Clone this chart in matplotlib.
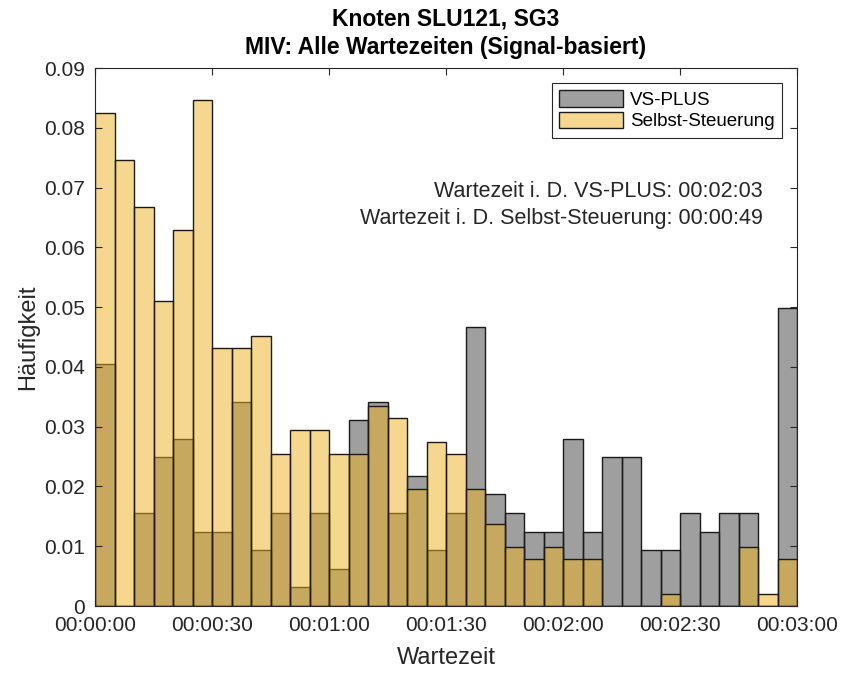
import matplotlib
matplotlib.use("Agg")
import matplotlib.pyplot as plt
from matplotlib.patches import Patch
import numpy as np

plt.rcParams['font.family'] = ['Liberation Sans', 'DejaVu Sans']

# bin edges in seconds (5 s bins from 0 to 180 s)
bin_width = 5
bin_starts = list(range(0, 180, 5))

vs_plus = [0.0405, 0.0, 0.0156, 0.0249, 0.0279, 0.0124, 0.0124, 0.0342, 0.0093,
           0.0156, 0.0031, 0.0156, 0.0062, 0.0311, 0.0342, 0.0156, 0.0218, 0.0093,
           0.0156, 0.0467, 0.0187, 0.0156, 0.0124, 0.0124, 0.0280, 0.0124, 0.0249,
           0.0249, 0.0093, 0.0093, 0.0156, 0.0124, 0.0156, 0.0156, 0.0, 0.0498]

selbst = [0.0825, 0.0746, 0.0668, 0.0511, 0.0629, 0.0846, 0.0432, 0.0432, 0.0452,
          0.0255, 0.0295, 0.0295, 0.0255, 0.0255, 0.0334, 0.0314, 0.0196, 0.0274,
          0.0255, 0.0196, 0.0137, 0.0098, 0.0078, 0.0098, 0.0078, 0.0078, 0.0,
          0.0, 0.0, 0.0020, 0.0, 0.0, 0.0, 0.0098, 0.0020, 0.0078]

series_names = ["VS-PLUS", "Selbst-Steuerung"]
xtick_secs = [0, 30, 60, 90, 120, 150, 180]
ytick_vals = [0, 0.01, 0.02, 0.03, 0.04, 0.05, 0.06, 0.07, 0.08, 0.09]
title_lines = ["Knoten SLU121, SG3", "MIV: Alle Wartezeiten (Signal-basiert)"]
annotations = ["Wartezeit i. D. VS-PLUS: 00:02:03",
               "Wartezeit i. D. Selbst-Steuerung: 00:00:49"]

gray_face = (0.25, 0.25, 0.25, 0.5)
yellow_face = (0.929, 0.694, 0.125, 0.5)
edge = (0.1, 0.1, 0.1, 1.0)
axcol = (0.15, 0.15, 0.15)

fig = plt.figure(figsize=(8.42, 6.73), dpi=100)
ax = fig.add_axes([95/842, 1-606/673, (797-95)/842, (606-68)/673])

ax.bar(bin_starts, vs_plus, width=bin_width, align='edge',
       facecolor=gray_face, edgecolor=edge, linewidth=1.0)
ax.bar(bin_starts, selbst, width=bin_width, align='edge',
       facecolor=yellow_face, edgecolor=edge, linewidth=1.0)

ax.set_xlim(0, 180)
ax.set_ylim(0, 0.09)

def fmt(s):
    return f"{s//3600:02d}:{(s%3600)//60:02d}:{s%60:02d}"

ax.set_xticks(xtick_secs)
ax.set_xticklabels([fmt(s) for s in xtick_secs])
ax.set_yticks(ytick_vals)
ax.set_yticklabels([f"{v:g}" for v in ytick_vals])

ax.tick_params(direction='in', top=True, right=True, length=5, width=0.8,
               colors=axcol, labelsize=15, pad=7)
for sp in ax.spines.values():
    sp.set_color(axcol)
    sp.set_linewidth(0.8)

ax.set_xlabel("Wartezeit", fontsize=17, color=axcol, labelpad=9)
ax.set_ylabel("Häufigkeit", fontsize=17, color=axcol, labelpad=4)

ax.set_title("\n".join(title_lines), fontsize=16.5, fontweight='bold',
             linespacing=1.3, pad=10)

ax.text(171.3, 0.0694, annotations[0], ha='right', va='center', fontsize=15.5, color=axcol)
ax.text(171.3, 0.0649, annotations[1], ha='right', va='center', fontsize=15.5, color=axcol)

handles = [Patch(facecolor=gray_face, edgecolor=edge, linewidth=1.0, label=series_names[0]),
           Patch(facecolor=yellow_face, edgecolor=edge, linewidth=1.0, label=series_names[1])]
leg = ax.legend(handles=handles, loc='upper right', bbox_to_anchor=(0.979, 0.973),
                fontsize=13.5, fancybox=False, framealpha=1, edgecolor=axcol,
                handlelength=3.4, handleheight=0.95, handletextpad=0.35,
                borderpad=0.42, labelspacing=0.15, borderaxespad=0)
leg.get_frame().set_linewidth(0.8)

fig.savefig("out.png", dpi=100)
